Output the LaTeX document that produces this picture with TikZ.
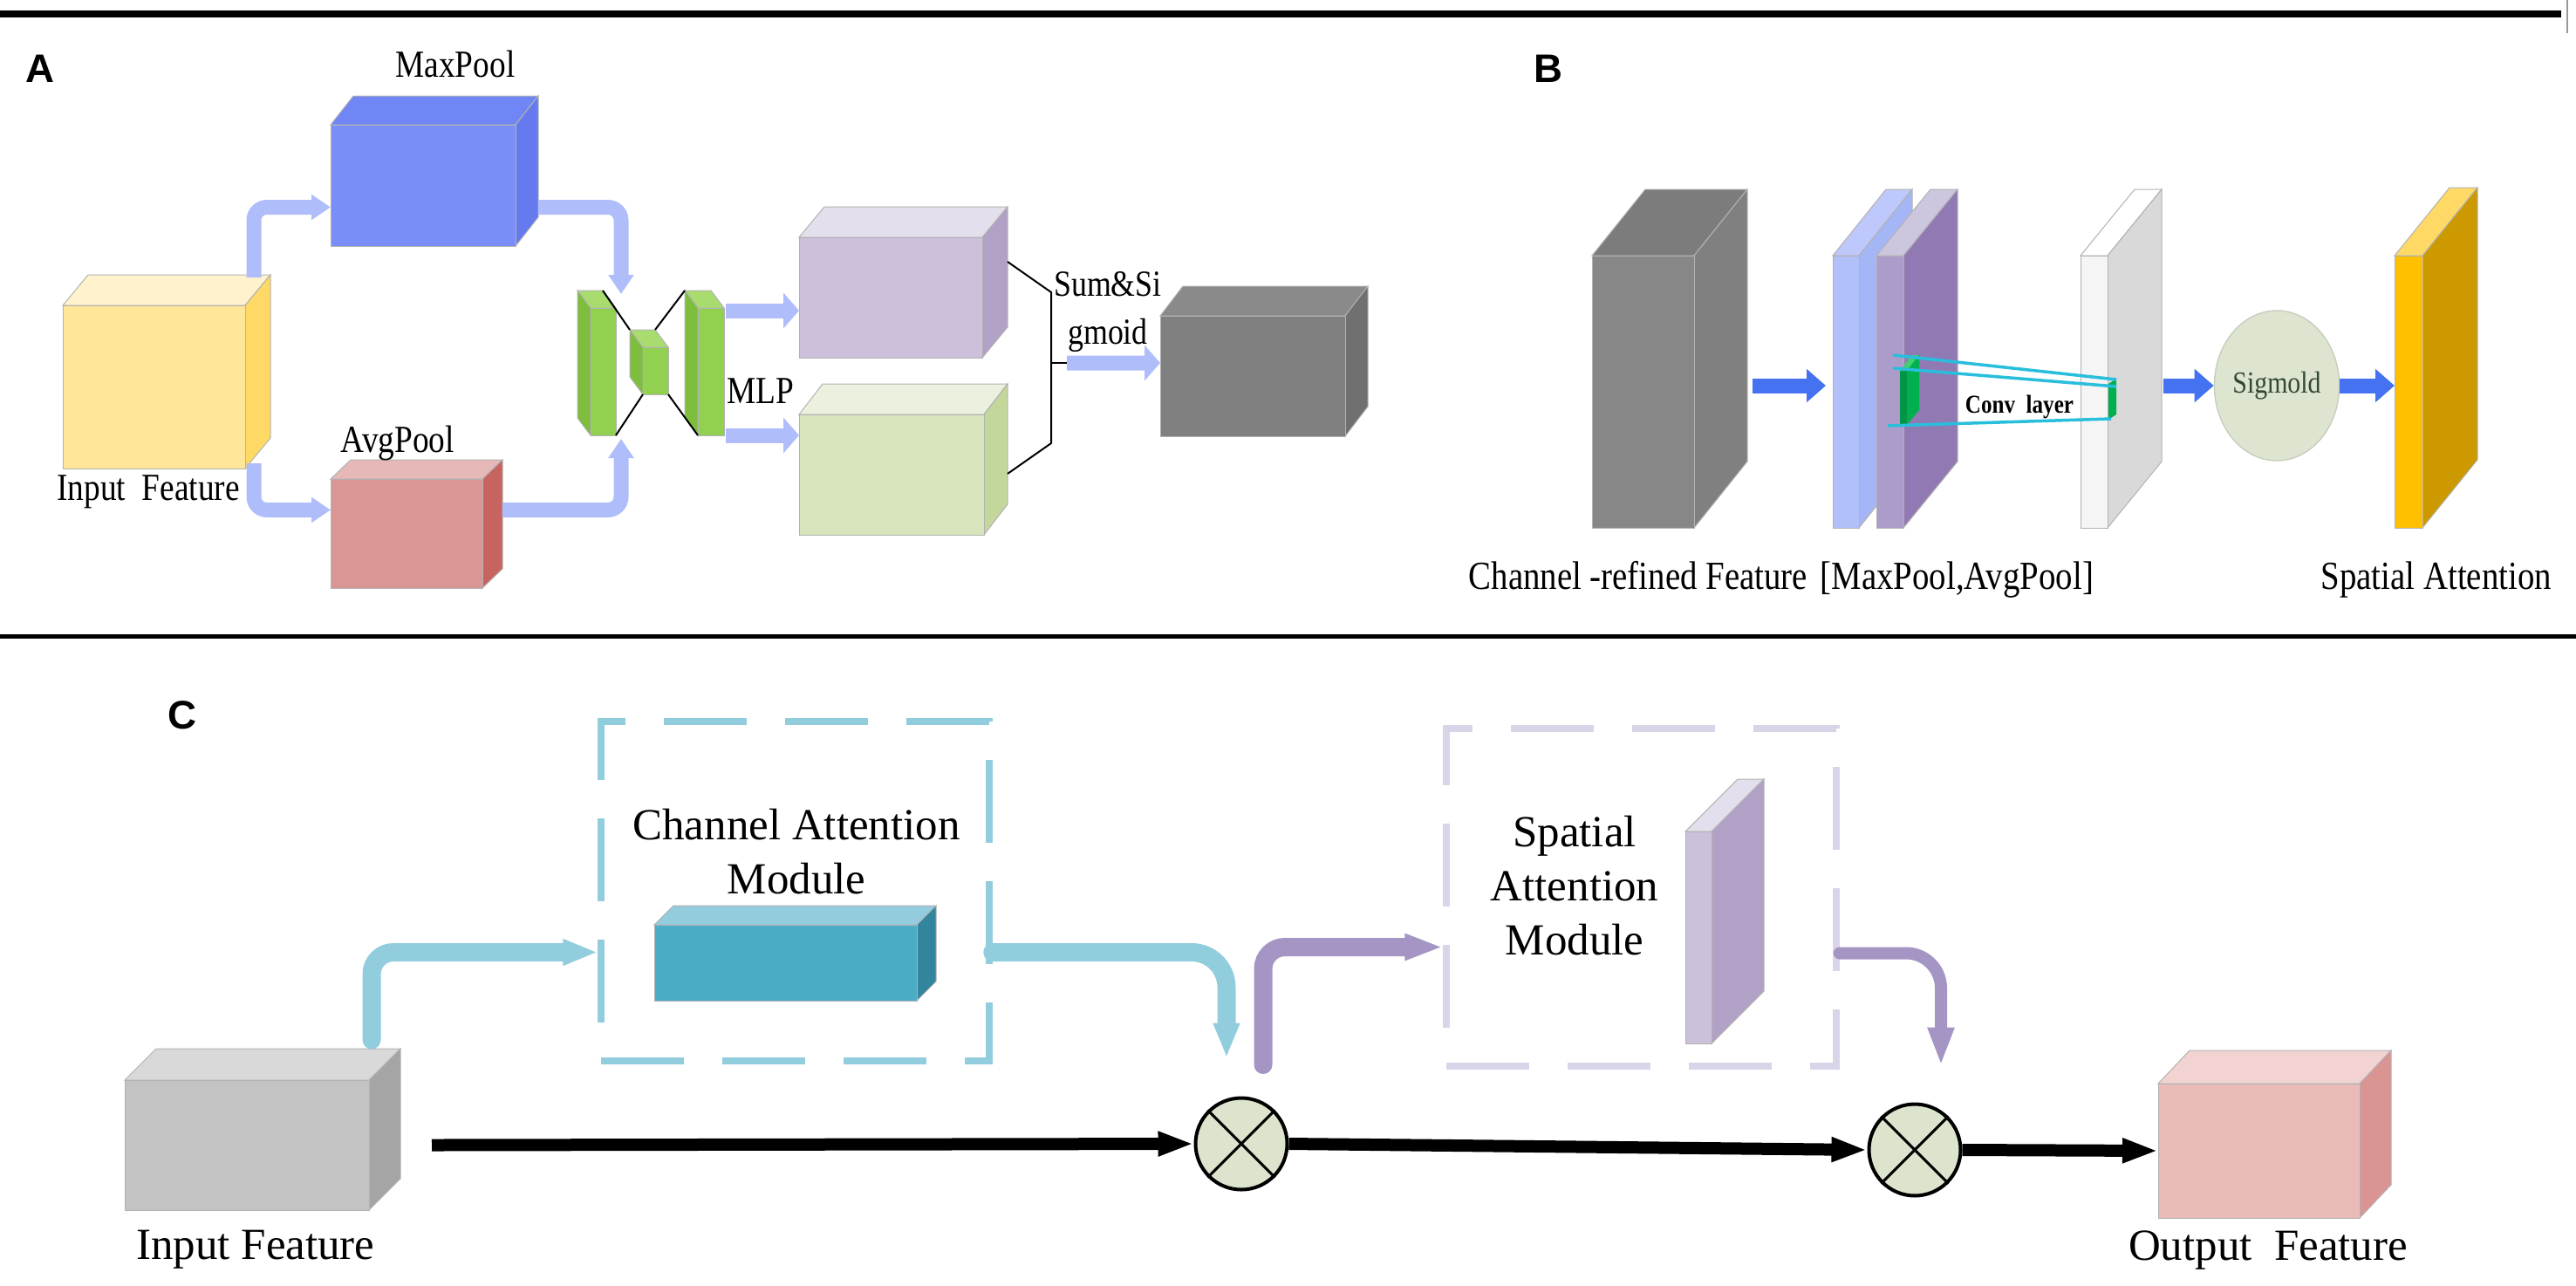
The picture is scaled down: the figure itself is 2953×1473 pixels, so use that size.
\documentclass[tikz,border=0pt]{standalone}
\usepackage{fontspec}
\setmainfont{Liberation Serif}
\newfontfamily\panelfont{Liberation Sans}
\newfontfamily\narrowfont{Liberation Serif}[FakeStretch=0.85]
\usetikzlibrary{arrows.meta,calc,shapes.geometric}

%% face colours: F front, T top, S side
\definecolor{ylF}{RGB}{255,230,153}\definecolor{ylT}{RGB}{255,242,204}\definecolor{ylS}{RGB}{255,217,102}
\definecolor{mxF}{RGB}{122,142,250}\definecolor{mxT}{RGB}{112,134,245}\definecolor{mxS}{RGB}{100,122,238}
\definecolor{avF}{RGB}{218,150,148}\definecolor{avT}{RGB}{230,184,183}\definecolor{avS}{RGB}{200,100,96}
\definecolor{mlF}{RGB}{146,208,80}\definecolor{mlT}{RGB}{168,220,110}\definecolor{mlS}{RGB}{125,190,60}
\definecolor{smF}{RGB}{204,192,218}\definecolor{smT}{RGB}{228,223,236}\definecolor{smS}{RGB}{178,161,199}
\definecolor{gnF}{RGB}{216,228,188}\definecolor{gnT}{RGB}{235,241,222}\definecolor{gnS}{RGB}{196,215,155}
\definecolor{dkF}{RGB}{128,128,128}\definecolor{dkT}{RGB}{138,138,138}\definecolor{dkS}{RGB}{112,112,112}
\definecolor{fbF}{RGB}{135,135,135}\definecolor{fbT}{RGB}{124,124,124}\definecolor{fbS}{RGB}{128,128,128}
\definecolor{bmF}{RGB}{178,192,250}\definecolor{bmT}{RGB}{190,200,250}\definecolor{bmS}{RGB}{165,182,246}
\definecolor{bvF}{RGB}{172,156,202}\definecolor{bvT}{RGB}{204,198,222}\definecolor{bvS}{RGB}{145,122,180}
\definecolor{wtF}{RGB}{245,245,245}\definecolor{wtT}{RGB}{255,255,255}\definecolor{wtS}{RGB}{217,217,217}
\definecolor{ywF}{RGB}{255,192,0}\definecolor{ywT}{RGB}{255,217,102}\definecolor{ywS}{RGB}{204,153,0}
\definecolor{gyF}{RGB}{195,195,195}\definecolor{gyT}{RGB}{217,217,217}\definecolor{gyS}{RGB}{165,165,165}
\definecolor{tlF}{RGB}{75,172,198}\definecolor{tlT}{RGB}{147,205,221}\definecolor{tlS}{RGB}{49,133,156}
\definecolor{spF}{RGB}{204,193,218}\definecolor{spT}{RGB}{228,223,236}\definecolor{spS}{RGB}{178,161,199}
\definecolor{pkF}{RGB}{234,186,184}\definecolor{pkT}{RGB}{242,211,210}\definecolor{pkS}{RGB}{218,148,146}
%% arrows and the rest
\definecolor{arrA}{RGB}{175,190,250}\definecolor{arrB}{RGB}{68,114,240}
\definecolor{cyA}{RGB}{146,205,222}\definecolor{puA}{RGB}{164,149,197}
\definecolor{dashC}{RGB}{146,205,222}\definecolor{dashS}{RGB}{217,213,232}
\definecolor{sigF}{RGB}{221,228,208}\definecolor{sigD}{RGB}{200,206,188}\definecolor{sigT}{RGB}{50,72,50}
\definecolor{multF}{RGB}{221,228,205}\definecolor{cyL}{RGB}{40,190,220}
\definecolor{kerD}{RGB}{0,150,70}\definecolor{kerM}{RGB}{0,176,80}\definecolor{kerL}{RGB}{60,210,110}

%% \cuboid{name}{x}{y}{w}{h}{dx}{dy}{colour prefix}, (x,y) = front top left
\newcommand{\cuboid}[8]{%
  \filldraw[cubeedge,fill=#8T] (#2,#3) -- ++(#6,#7) -- ++(#4,0) -- ++({-(#6)},{-(#7)}) -- cycle;
  \filldraw[cubeedge,fill=#8S] ({#2+ifthenelse(#6>0,#4,0)},#3) -- ++(#6,#7) -- ++(0,#5) -- ++({-(#6)},{-(#7)}) -- cycle;
  \node[cubeface,fill=#8F,minimum width=#4*0.1mm,minimum height=#5*0.1mm,anchor=north west] (#1) at (#2,#3) {};
}

\begin{document}
\begin{tikzpicture}[x=0.1mm,y=-0.1mm,
  cubeedge/.style={draw=black!30,line width=0.1mm},
  cubeface/.style={cubeedge,inner sep=0pt,outer sep=0pt},
  panel/.style={font=\panelfont\bfseries\fontsize{13}{15}\selectfont,inner sep=0pt},
  lbl/.style={font=\narrowfont\fontsize{12.5}{15}\selectfont,inner sep=0pt},
  lblB/.style={font=\narrowfont\fontsize{13}{15.6}\selectfont,inner sep=0pt,anchor=base west},
  lblC/.style={font=\fontsize{14.5}{17.6}\selectfont,inner sep=0pt,align=center},
  pale/.style={draw=arrA,line width=1.7mm,rounded corners=1.5mm,-{Triangle[length=2.2mm,width=2.8mm]}},
  paleR/.style={draw=arrA,line width=1.7mm,-{Triangle[length=1.8mm,width=4mm]}},
  bright/.style={draw=arrB,line width=1.7mm,-{Triangle[length=2.2mm,width=3.7mm]}},
  feed/.style={line width=1.4mm,-{Triangle[length=4.1mm,width=2.6mm]}},
  cyarrow/.style={draw=cyA,line width=2.1mm,line cap=round,-{Triangle[length=4mm,width=2.8mm]}},
  puarrow/.style={draw=puA,line width=2.1mm,line cap=round,-{Triangle[length=4.4mm,width=2.8mm]}},
  modbox/.style={line width=0.75mm,dash pattern=on 9.5mm off 4.4mm,inner sep=0pt},
  mult/.style={circle,draw,line width=0.4mm,fill=multF,minimum size=10.5mm,inner sep=0pt},
  sigma/.style={ellipse,draw=sigD,fill=sigF,text=sigT,minimum width=13.8mm,minimum height=17.2mm,
    inner sep=0pt,font=\narrowfont\fontsize{10}{12}\selectfont}]
\useasboundingbox (0,0) rectangle (2953,1473);

%% rules
\draw[line width=0.8mm] (0,16) -- (2936,16);
\draw[black!40,line width=0.15mm] (2943,0) -- (2943,38);
\draw[line width=0.5mm] (0,729) -- (2953,729);

%% A: channel attention
\node[panel] (labA) at (46,79) {A};
\cuboid{inA}{72}{350}{209}{187}{29}{-35}{yl}
\cuboid{maxA}{379}{143}{212}{139}{26}{-33}{mx}
\cuboid{avgA}{379}{549}{174}{125}{23}{-22}{av}
\cuboid{mlpL}{677}{353}{29}{146}{-15}{-20}{ml}
\cuboid{mlpM}{737}{398}{29}{54}{-15}{-20}{ml}
\cuboid{mlpR}{800}{353}{30}{146}{-15}{-20}{ml}
\cuboid{sumA}{916}{272}{210}{138}{29}{-35}{sm}
\cuboid{gA}{916}{475}{212}{138}{27}{-35}{gn}
\cuboid{outA}{1330}{362}{212}{138}{26}{-34}{dk}
\node[lbl,anchor=base] (maxT) at (522,88) {MaxPool};
\node[lbl,anchor=base] (avgT) at (456,518) {AvgPool};
\node[lbl,anchor=base] (inAT) at (170,573) {Input\ \ Feature};
\node[lbl,anchor=base] (mlpT) at (872,462) {MLP};
\node[lbl,anchor=north,align=center,font=\narrowfont\fontsize{12}{15.6}\selectfont] (sumT) at (1270,311) {Sum\&Si\\gmoid};
\draw[line width=0.2mm] ($(mlpL.north east)+(-15,-20)$) -- ($(mlpM.north west)+(-15,-20)$)
  ($(mlpM.north east)+(-15,-20)$) -- ($(mlpR.north west)+(-15,-20)$)
  (mlpL.south east) -- (mlpM.south west) (mlpM.south east) -- (mlpR.south west);
\draw[pale] ($(inA.north east)+(10,-32)$) |- ([yshift=-2.5mm]maxA.west);
\draw[pale] ($(maxA.east)+(26,25)$) -| ($(mlpL.north east)+(6,-16)$);
\draw[pale] ($(inA.south east)+(10,-6)$) |- ([yshift=2.7mm]avgA.west);
\draw[pale] ($(avgA.east)+(23,-27)$) -| ($(mlpL.south east)+(6,4)$);
\draw[paleR] ($(mlpR.east)+(2,-70)$) -- ($(sumA.west|-mlpR.east)+(0,-70)$);
\draw[paleR] ($(mlpR.south east)+(2,0)$) -- (gA.west|-mlpR.south east);
\coordinate (brk) at ($(outA.west)+(-125,-15)$);
\draw[line width=0.2mm] ($(sumA.north east)+(29,28)$) -- ++(50,35) -- ++(0,173) -- ($(gA.north east)+(27,68)$);
\draw[line width=0.2mm] (brk) -- ++(18,0);
\draw[paleR] ($(brk)+(18,0)$) -- ([yshift=1.5mm]outA.west);

%% B: spatial attention
\node[panel] (labB) at (1775,79) {B};
\cuboid{featB}{1825}{293}{117}{312}{61}{-76}{fb}
\cuboid{maxB}{2101}{293}{30}{312}{61}{-76}{bm}
\cuboid{avgB}{2151}{293}{31}{312}{62}{-76}{bv}
\cuboid{convB}{2385}{293}{31}{312}{62}{-76}{wt}
\cuboid{attB}{2745}{293}{32}{312}{63}{-78}{yw}
\fill[kerD] (2178,425) rectangle (2186,487);
\fill[kerL] (2178,425) -- (2192,407) -- (2200,407) -- (2186,425) -- cycle;
\fill[kerM] (2186,425) -- (2200,407) -- (2200,470) -- (2186,487) -- cycle;
\fill[kerM] (2417,440) -- (2426,434) -- (2426,475) -- (2417,481) -- cycle;
\draw[cyL,line width=0.35mm] (2170,407) -- (2426,435) (2170,422) -- (2426,443) (2164,488) -- (2420,480);
\node[font=\narrowfont\bfseries\fontsize{8.4}{10}\selectfont,inner sep=0pt] (convT) at (2315,466) {Conv\ \ layer};
\node[sigma] (sigB) at (2610,442) {Sigmold};
\draw[bright] ($(featB.east)+(67,-7)$) -- ($(maxB.west)+(-8,-7)$);
\draw[bright] ($(convB.east)+(64,-7)$) -- (sigB.west);
\draw[bright] (sigB.east) -- (attB.west|-sigB.east);
\node[lblB] (featT) at (1683,675) {Channel -refined Feature};
\node[lblB] (poolT) at (2086,675) {[MaxPool,AvgPool]};
\node[lblB] (attT) at (2660,675) {Spatial Attention};

%% C: the whole block
\node[panel] (labC) at (209,820) {C};
\node[modbox,draw=dashC,minimum width=44.5mm,minimum height=38.9mm] (chBox) at (911.5,1021.5) {};
\node[modbox,draw=dashS,minimum width=44.7mm,minimum height=38.7mm] (spBox) at (1881.5,1028.5) {};
\cuboid{inC}{143}{1238}{280}{149}{36}{-36}{gy}
\cuboid{chC}{750}{1060}{301}{87}{22}{-22}{tl}
\cuboid{spC}{1932}{953}{30}{243}{60}{-60}{sp}
\cuboid{outC}{2474}{1242}{231}{154}{36}{-38}{pk}
\node[lblC] (chT) at (913,976) {Channel Attention\\Module};
\node[lblC] (spT) at (1805,1015) {Spatial\\Attention\\Module};
\node[lblC,anchor=base] (inCT) at (293,1443) {Input Feature};
\node[lblC,anchor=base] (outCT) at (2600,1444) {Output\ \ Feature};
\node[mult] (m1) at (1423,1311) {};
\node[mult] (m2) at (2195,1318) {};
\foreach \m in {m1,m2}
  \draw[line width=0.3mm] (\m.45) -- (\m.225) (\m.135) -- (\m.315);
\draw[feed] ([xshift=7.2mm]inC.east) -- (m1.west);
\draw[feed] (m1.east) -- (m2.west);
\draw[feed] (m2.east) -- (outC.west);
\draw[cyarrow,rounded corners=2.5mm] ($(inC.north east)+(3,-46)$) |- ([yshift=-7mm]chBox.west);
\draw[cyarrow,rounded corners=4mm] ([yshift=-7mm]chBox.east) -| ([xshift=-1.7mm,yshift=4.4mm]m1.north);
\draw[puarrow,rounded corners=2.5mm] ([xshift=2.5mm,yshift=3.6mm]m1.north) |- ([yshift=-5.7mm]spBox.west);
\draw[puarrow,line width=1.4mm,rounded corners=4mm] ([yshift=-6.4mm]spBox.east) -| ([xshift=3mm,yshift=4.2mm]m2.north);
\end{tikzpicture}
\end{document}
